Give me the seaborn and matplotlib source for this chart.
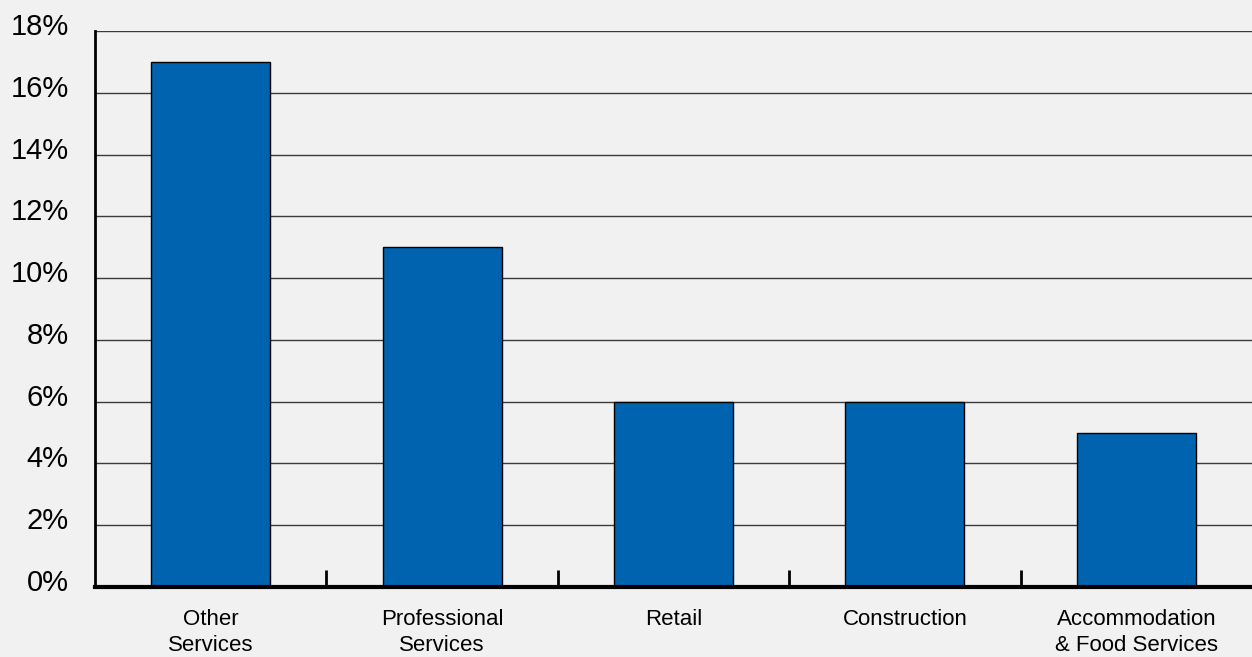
import numpy as np
import matplotlib
matplotlib.use('Agg')
import matplotlib.pyplot as plt
import matplotlib.transforms as mtrans
import seaborn as sns

# datos
categorias = ['Other\nServices', 'Professional\nServices', 'Retail', 'Construction',
              'Accommodation\n& Food Services']
valores = [17, 11, 6, 6, 5]
yticks = [0, 2, 4, 6, 8, 10, 12, 14, 16, 18]
yticklabels = ['0%', '2%', '4%', '6%', '8%', '10%', '12%', '14%', '16%', '18%']

sns.set_style('white')
plt.rcParams['font.family'] = ['Liberation Sans', 'DejaVu Sans']
plt.rcParams['text.color'] = 'black'
plt.rcParams['xtick.color'] = 'black'
plt.rcParams['ytick.color'] = 'black'

fondo = '#f1f1f1'
fig = plt.figure(figsize=(12.52, 6.57), dpi=100, facecolor=fondo)
ax = fig.add_axes([0.0759, 0.1065, 0.9241, 0.8463])
ax.set_facecolor(fondo)

sns.barplot(ax=ax, x=categorias, y=valores, color='#0063b0', saturation=1,
            width=0.515, edgecolor='black', linewidth=1, zorder=3)

ax.set_xlim(-0.5, 4.5)
ax.set_ylim(0, 18)
ax.set_yticks(yticks)
ax.tick_params(axis='y', length=0, pad=19, labelcolor='black')
ax.set_yticklabels(yticklabels, fontsize=21, color='black')

# grilla
ax.set_axisbelow(True)
ax.yaxis.grid(True, color='#3a3a3a', lw=1)
ax.xaxis.grid(False)

# etiquetas x
ax.tick_params(axis='x', which='major', length=0, pad=16, labelcolor='black')
for lab in ax.get_xticklabels():
    lab.set_fontsize(16)
    lab.set_color('black')
    lab.set_verticalalignment('top')
    lab.set_linespacing(1.29)
ax.set_xticks([0.5, 1.5, 2.5, 3.5], minor=True)
ax.tick_params(axis='x', which='minor', bottom=True, direction='in', length=12,
               width=2, color='black')

# subir un poco las etiquetas del eje y
desplazamiento = mtrans.ScaledTranslation(0, 7 / 100, fig.dpi_scale_trans)
for lab in ax.get_yticklabels():
    lab.set_transform(lab.get_transform() + desplazamiento)

for s in ['top', 'right']:
    ax.spines[s].set_visible(False)
ax.spines['left'].set_linewidth(2)
ax.spines['left'].set_color('black')
ax.spines['bottom'].set_linewidth(3)
ax.spines['bottom'].set_color('black')
ax.spines['bottom'].set_zorder(5)

plt.savefig('out.png', dpi=100, facecolor=fondo)
